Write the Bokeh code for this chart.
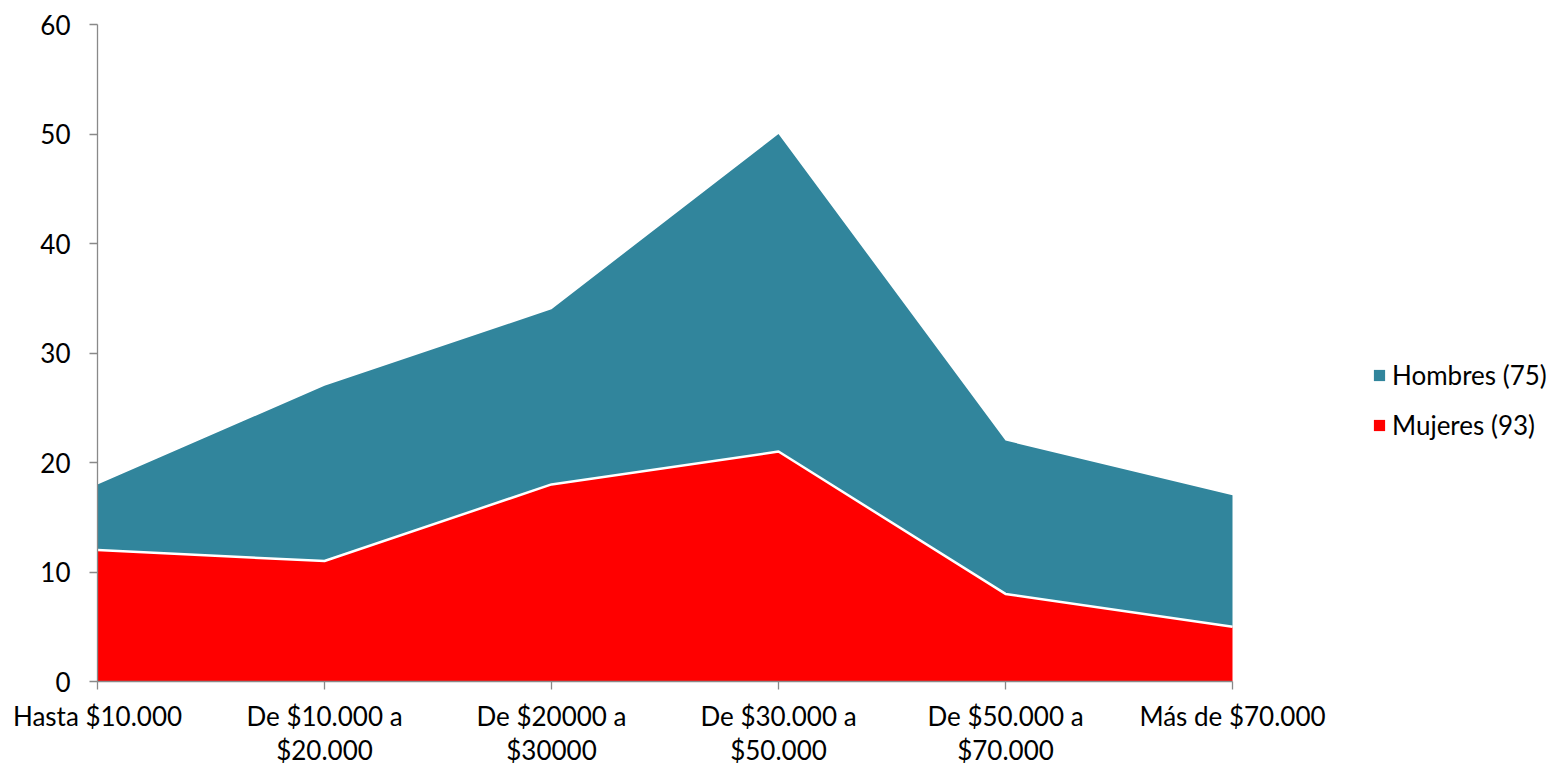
from bokeh.plotting import figure
from bokeh.models import Range1d, Legend, LegendItem, ColumnDataSource, FixedTicker
from bokeh.embed import file_html
from bokeh.resources import INLINE

categories = ["Hasta $10.000", "De $10.000 a\n$20.000", "De $20000 a\n$30000",
              "De $30.000 a\n$50.000", "De $50.000 a\n$70.000", "Más de $70.000"]
mujeres = [12, 11, 18, 21, 8, 5]
hombres = [6, 16, 16, 29, 14, 12]
series_names = ["Hombres (75)", "Mujeres (93)"]
y_ticks = [0, 10, 20, 30, 40, 50, 60]

FONT = "Lato"
FS = "26px"
TEAL = "#31859C"
RED = "#FF0000"
AXIS = "#898989"

W, H = 1551, 767
LEFT, TOP = 97, 24     # pixel position of the (0, 60) corner
STEP = 227.0           # px per category
UNIT = 657.0 / 60      # px per y unit

x = list(range(len(categories)))
src = ColumnDataSource(dict(x=x, mujeres=mujeres, hombres=hombres))

x_min = -LEFT / STEP
x_max = (W - LEFT) / STEP
y_max = 60 + TOP / UNIT
y_min = 60 - (H - TOP) / UNIT

p = figure(width=W, height=H, output_backend="svg", toolbar_location=None,
           x_range=Range1d(x_min, x_max), y_range=Range1d(y_min, y_max),
           min_border_left=0, min_border_right=0, min_border_top=0, min_border_bottom=0)
p.outline_line_color = None
p.xgrid.visible = False
p.ygrid.visible = False

rs = p.varea_stack(["mujeres", "hombres"], x="x", color=[RED, TEAL], source=src)
p.line("x", "mujeres", source=src, line_color="white", line_width=2.5)

for ax in (p.xaxis[0], p.yaxis[0]):
    ax.axis_line_color = AXIS
    ax.axis_line_width = 1.3
    ax.major_tick_line_color = AXIS
    ax.major_tick_line_width = 1.3
    ax.major_tick_in = 0
    ax.major_tick_out = 8
    ax.minor_tick_line_color = None
    ax.major_label_text_font = FONT
    ax.major_label_text_font_size = FS
    ax.major_label_text_color = "black"

p.yaxis.ticker = FixedTicker(ticks=y_ticks)
p.yaxis.bounds = (0, 60)
p.yaxis.fixed_location = 0
p.yaxis.major_label_standoff = 19
p.xaxis.ticker = FixedTicker(ticks=x)
p.xaxis.bounds = (0, len(categories) - 1)
p.xaxis.fixed_location = 0
p.xaxis.major_label_overrides = {i: c for i, c in enumerate(categories)}
p.xaxis.major_label_standoff = 10
p.xaxis.major_label_text_line_height = 1.08

legend = Legend(items=[LegendItem(label=series_names[0], renderers=[rs[1]]),
                       LegendItem(label=series_names[1], renderers=[rs[0]])],
                location=(1372, 326), orientation="vertical",
                padding=0, margin=0, spacing=18, glyph_width=14, glyph_height=14,
                label_standoff=6, label_text_font=FONT, label_text_font_size=FS,
                label_text_color="black",
                border_line_alpha=0, background_fill_alpha=0)
p.add_layout(legend, "center")

open("out.html", "w").write(file_html(p, INLINE))
